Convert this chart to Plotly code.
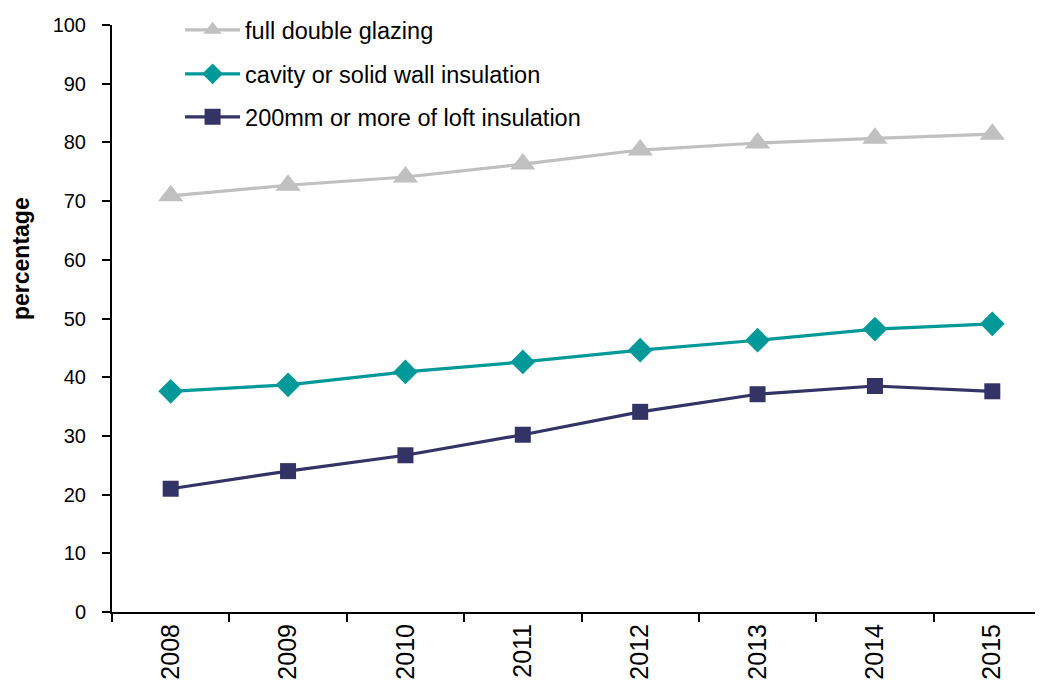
import plotly.graph_objects as go

years = ["2008", "2009", "2010", "2011", "2012", "2013", "2014", "2015"]
double_glazing = [70.9, 72.7, 74.1, 76.3, 78.7, 79.9, 80.7, 81.4]
wall_insulation = [37.6, 38.7, 40.9, 42.6, 44.6, 46.3, 48.2, 49.1]
loft_insulation = [21.0, 24.0, 26.7, 30.2, 34.1, 37.1, 38.5, 37.6]
y_ticks = [0, 10, 20, 30, 40, 50, 60, 70, 80, 90, 100]

FONT = "Liberation Sans, Arial, sans-serif"

fig = go.Figure()
fig.add_trace(go.Scatter(x=years, y=double_glazing, name="full double glazing",
                         mode="lines+markers", legend="legend", showlegend=True,
                         line=dict(color="#c0c0c0", width=3.2),
                         marker=dict(symbol="triangle-up", size=22, color="#c0c0c0")))
fig.add_trace(go.Scatter(x=years, y=wall_insulation, name="cavity or solid wall insulation",
                         mode="lines+markers", legend="legend2", showlegend=True,
                         line=dict(color="#009999", width=3.2),
                         marker=dict(symbol="diamond", size=19, color="#009999")))
fig.add_trace(go.Scatter(x=years, y=loft_insulation, name="200mm or more of loft insulation",
                         mode="lines+markers", legend="legend3", showlegend=True,
                         line=dict(color="#333366", width=3.2),
                         marker=dict(symbol="square", size=16, color="#333366")))

leg_common = dict(xanchor="left", yanchor="middle", bgcolor="rgba(0,0,0,0)",
                  font=dict(family=FONT, size=23.5, color="#000"),
                  itemwidth=55, borderwidth=0)

# plot area: y=0 at screen 612, y=100 at screen 25 (page has 8px body margin)
def py(screen_y):
    return (612 - screen_y) / 587.0

fig.update_layout(
    width=1043, height=680,
    margin=dict(l=104, r=0, t=17, b=76),
    showlegend=True,
    paper_bgcolor="white", plot_bgcolor="white",
    font=dict(family=FONT, size=20, color="#000"),
    legend=dict(x=0.0725, y=py(30), **leg_common),
    legend2=dict(x=0.0725, y=py(74), **leg_common),
    legend3=dict(x=0.0725, y=py(117), **leg_common),
    xaxis=dict(type="category", categoryorder="array", categoryarray=years,
               range=[-0.5, 7.5], tickson="boundaries", ticks="outside", ticklen=8,
               tickwidth=2, tickcolor="#000", showline=True, linecolor="#000", linewidth=2,
               tickangle=-90, showgrid=False, zeroline=False,
               tickfont=dict(family=FONT, size=25)),
    yaxis=dict(range=[0, 100], tickvals=y_ticks, ticks="outside", ticklen=8,
               tickwidth=2, tickcolor="#000", showline=True, linecolor="#000", linewidth=2,
               ticklabelstandoff=12,
               showgrid=False, zeroline=False, tickfont=dict(family=FONT, size=20)),
    annotations=[dict(text="<b>percentage</b>", x=(21 - 112) / 939.0, xref="paper",
                      y=py(259), yref="paper", textangle=-90, showarrow=False,
                      font=dict(family=FONT, size=23),
                      xanchor="center", yanchor="middle")],
)
fig.write_html("out.html")
